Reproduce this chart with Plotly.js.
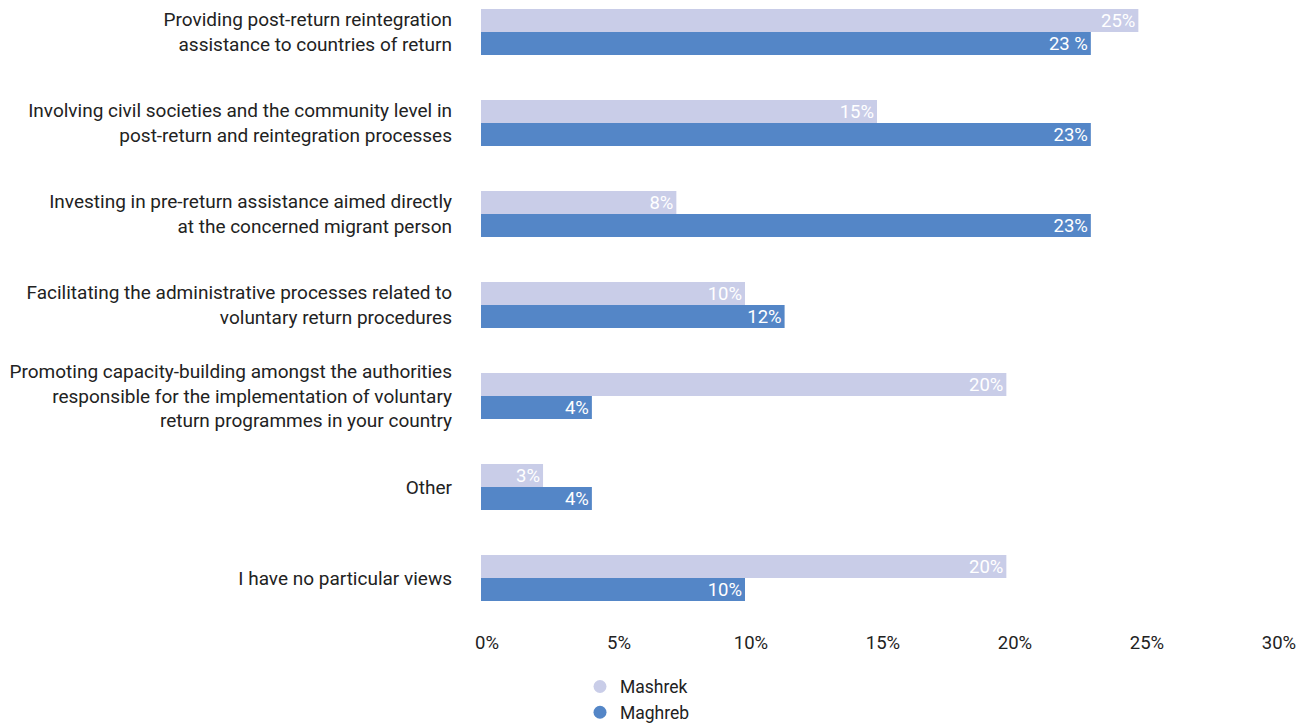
<!DOCTYPE html>
<html>
<head>
<meta charset="utf-8">
<script src="https://cdn.plot.ly/plotly-3.0.1.min.js"></script>
<style>
  html, body { margin: 0; padding: 0; background: #ffffff; }
  #chart { width: 1306px; height: 724px; }
</style>
</head>
<body>
<div id="chart"></div>
<script>
const categories = [
  "Providing post-return reintegration<br>assistance to countries of return",
  "Involving civil societies and the community level in<br>post-return and reintegration processes",
  "Investing in pre-return assistance aimed directly<br>at the concerned migrant person",
  "Facilitating the administrative processes related to<br>voluntary return procedures",
  "Promoting capacity-building amongst the authorities<br>responsible for the implementation of voluntary<br>return programmes in your country",
  "Other",
  "I have no particular views"
];
const mashrekValues = [24.9, 15.0, 7.4, 10.0, 19.9, 2.35, 19.9];
const maghrebValues = [23.1, 23.1, 23.1, 11.5, 4.2, 4.2, 10.0];
const mashrekLabels = ["25%", "15%", "8%", "10%", "20%", "3%", "20%"];
const maghrebLabels = ["23 %", "23%", "23%", "12%", "4%", "4%", "10%"];
const xTickValues = [0, 5, 10, 15, 20, 25, 30];
const xTickLabels = ["0%", "5%", "10%", "15%", "20%", "25%", "30%"];

const FONT = "Roboto, 'Noto Sans', sans-serif";
const C_MASHREK = "#c9cde8";
const C_MAGHREB = "#5486c7";

const traces = [
  {
    type: "bar", orientation: "h", name: "Mashrek",
    y: categories, x: mashrekValues,
    text: mashrekLabels, textposition: "inside", insidetextanchor: "end",
    constraintext: "none",
    textfont: { family: FONT, size: 18.5, color: "#ffffff" },
    marker: { color: C_MASHREK }, showlegend: false, hoverinfo: "none"
  },
  {
    type: "bar", orientation: "h", name: "Maghreb",
    y: categories, x: maghrebValues,
    text: maghrebLabels, textposition: "inside", insidetextanchor: "end",
    constraintext: "none",
    textfont: { family: FONT, size: 18.5, color: "#ffffff" },
    marker: { color: C_MAGHREB }, showlegend: false, hoverinfo: "none"
  },
  {
    type: "scatter", mode: "markers", name: "Mashrek",
    x: [null], y: [null], marker: { color: C_MASHREK, size: 13, symbol: "circle" },
    showlegend: true
  },
  {
    type: "scatter", mode: "markers", name: "Maghreb",
    x: [null], y: [null], marker: { color: C_MAGHREB, size: 13, symbol: "circle" },
    showlegend: true
  }
];

const layout = {
  width: 1306, height: 724,
  margin: { l: 481, r: 33, t: 0, b: 96, autoexpand: false },
  paper_bgcolor: "#ffffff", plot_bgcolor: "#ffffff",
  font: { family: FONT, size: 18, color: "#222222" },
  barmode: "group",
  bargap: 0.495,
  bargroupgap: 0,
  xaxis: {
    range: [0, 30], tickvals: xTickValues, ticktext: xTickLabels,
    showgrid: false, zeroline: false, showline: false, ticks: "",
    tickfont: { family: FONT, size: 18.5, color: "#222222" },
    ticklabelshift: 6, ticklabelstandoff: 1, fixedrange: true
  },
  yaxis: {
    type: "category", range: [6.549, -0.352],
    showgrid: false, zeroline: false, showline: false, ticks: "",
    tickfont: { family: FONT, size: 19, color: "#222222" },
    ticklabelstandoff: 28, fixedrange: true
  },
  showlegend: true,
  legend: {
    orientation: "v", x: 0.125, xanchor: "left",
    yref: "container", y: 0.0765, yanchor: "top",
    tracegroupgap: 0,
    font: { family: FONT, size: 17.5, color: "#222222" },
    bgcolor: "rgba(0,0,0,0)", itemclick: false, itemdoubleclick: false
  }
};

Plotly.newPlot("chart", traces, layout, { displayModeBar: false, staticPlot: true });
</script>
</body>
</html>
